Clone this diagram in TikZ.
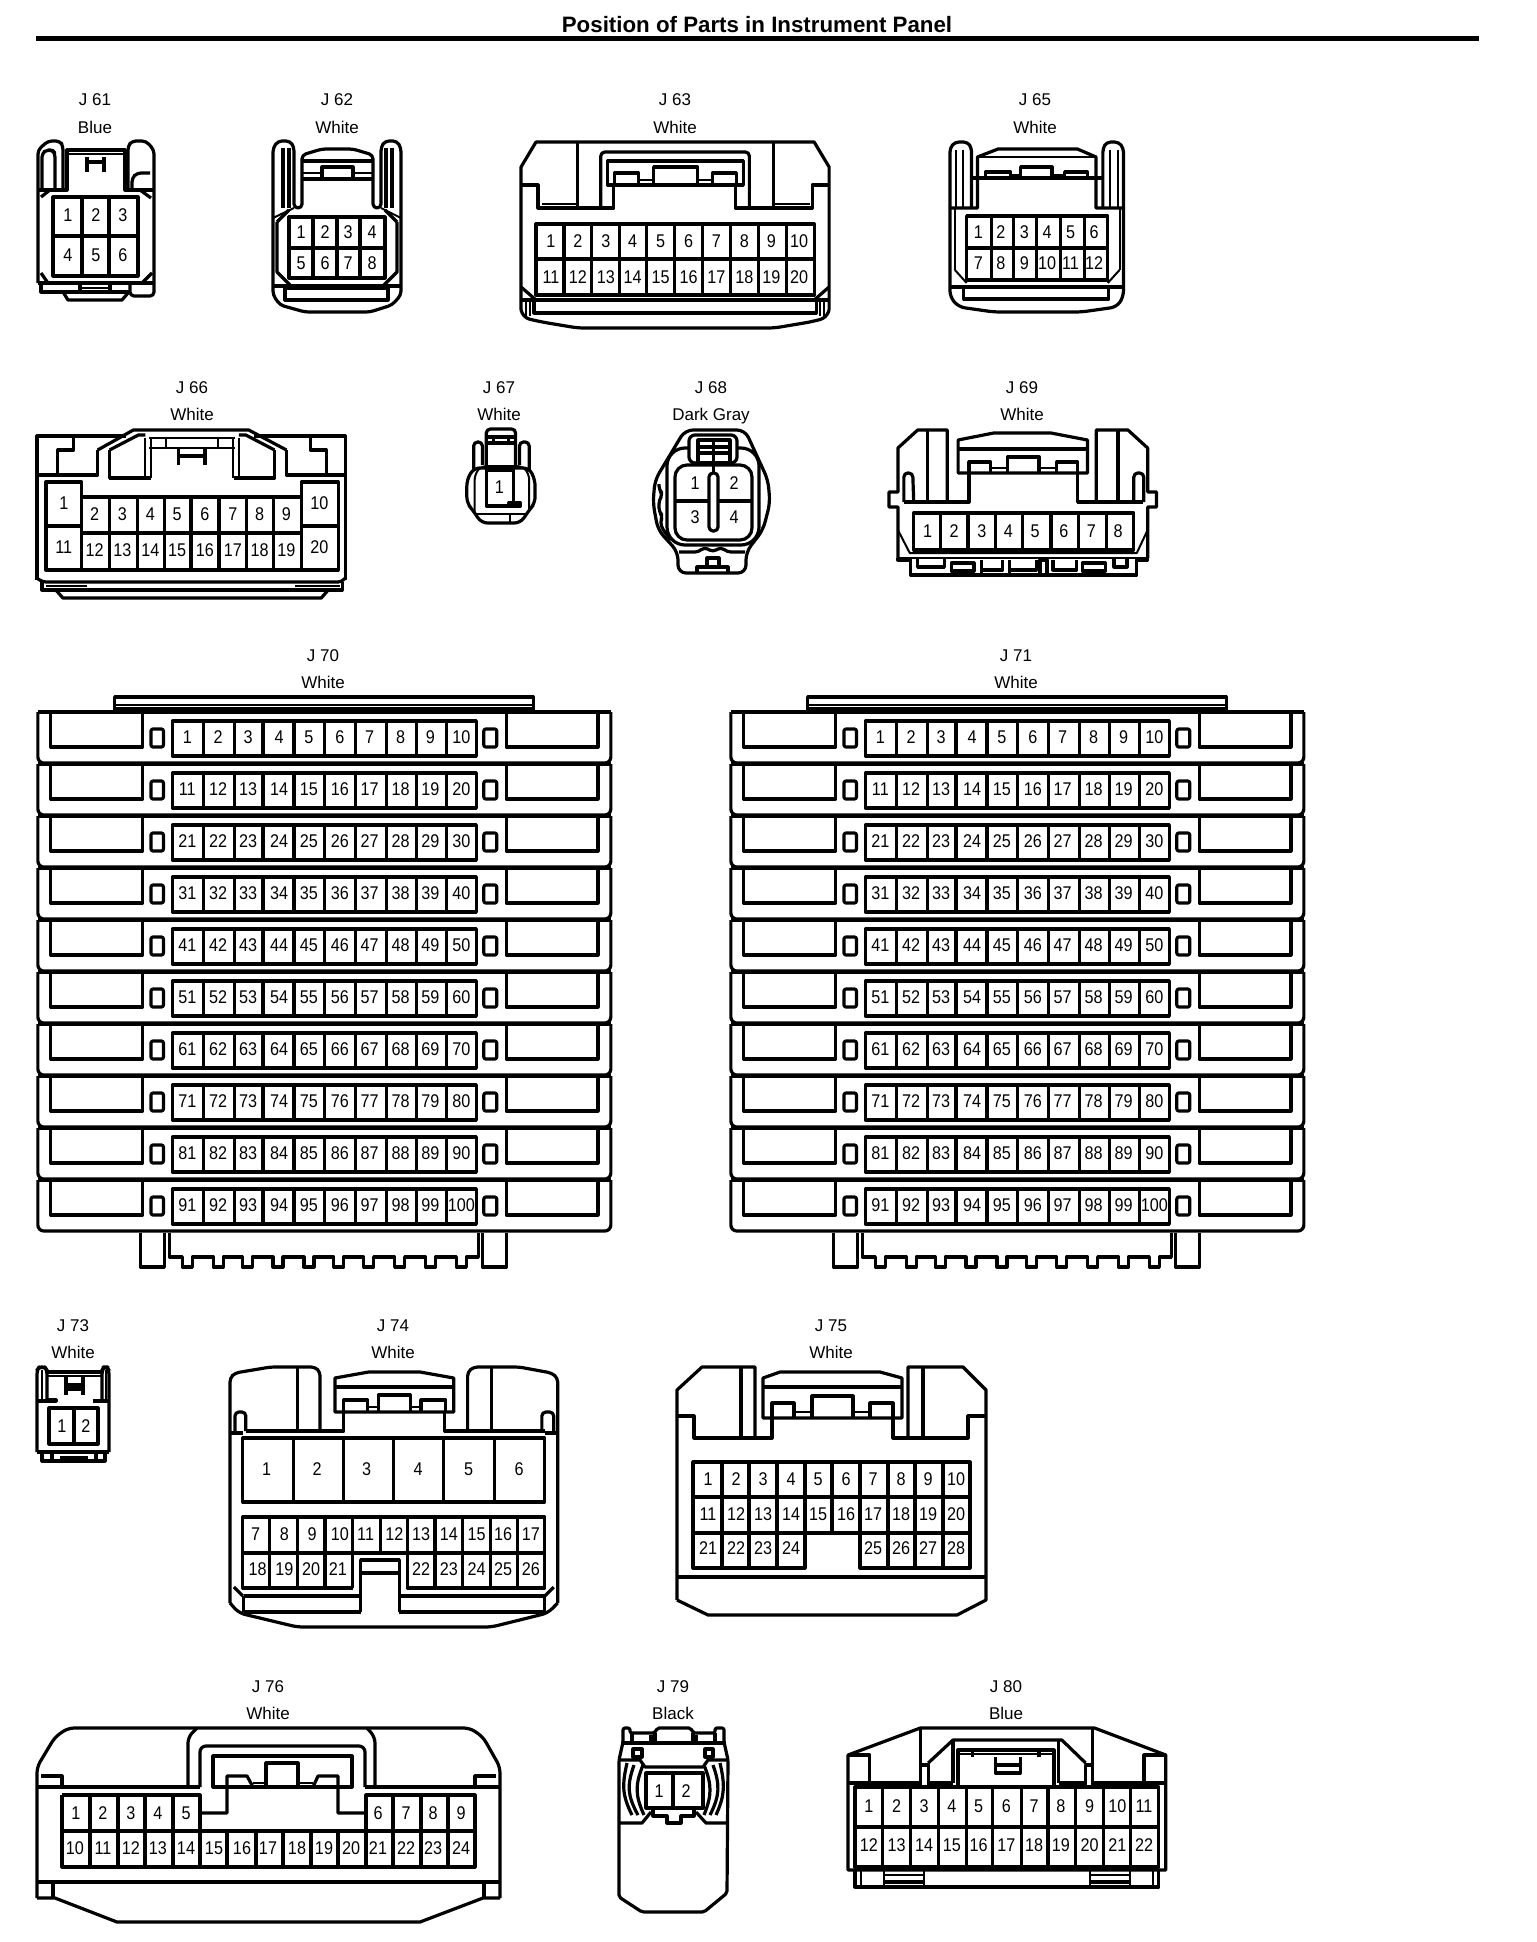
\documentclass[tikz,border=0pt]{standalone}
\usepackage{fontspec}
\setmainfont{Liberation Sans}
\newfontfamily\pinfont[FakeStretch=0.88]{Liberation Sans}
\tikzset{
  pinno/.style={inner sep=0pt,font=\pinfont\fontsize{9.2}{10}\selectfont},
  tagtext/.style={inner sep=0pt,text height=6pt,text depth=0pt,font=\fontsize{8.5}{10}\selectfont},
  hair/.style={line width=1pt},
  round/.style={rounded corners=2pt},
}
\newcommand\lbl[5]{\node[tagtext] (#1-id) at (#4,#5) {#2};\node[tagtext] (#1-col) at (#4,#5+27.5) {#3};}
\newcommand\pins[3]{\foreach \px/\pn in {#3} {\node[pinno] (#1-\pn) at (\px,#2) {\pn};}}
\newcommand\vls[3]{\foreach \q in {#3} {\draw (\q,#1)--(\q,#2);}}
\newcommand\hls[3]{\foreach \q in {#3} {\draw (#1,\q)--(#2,\q);}}
\newcommand\bigconn[2]{%
\begin{scope}[cm={0.9965,0,0,1,(#2,0)}]
\foreach \r in {0,...,9}{
  \pgfmathsetmacro\t{712+52*\r}
  \draw[rounded corners=3pt] (38,\t)--(38,\t+51)--(613,\t+51)--(613,\t);
  \draw[sharp corners] (38,\t)--(613,\t);
  \draw (51,\t)--(51,\t+35)--(143,\t+35)--(143,\t);
  \draw (600,\t)--(600,\t+35)--(508,\t+35)--(508,\t);
  \draw[rounded corners=1pt] (151.5,\t+17) rectangle (164,\t+35);
  \draw[rounded corners=1pt] (485.5,\t+17) rectangle (498.5,\t+35);
  \draw (173,\t+9) rectangle (478,\t+44);
  \vls{\t+9}{\t+44}{204,235,264,295,326,357,388,418,448}
  \foreach \c/\px in {1/188,2/219,3/249,4/280,5/310,6/341,7/371,8/402,9/432,10/463}{
    \pgfmathtruncatemacro\n{10*\r+\c}
    \node[pinno] (#1-\n) at (\px,\t+25) {\n};
  }
}
\draw[fill=white] (115,711)--(115,697)--(535,697)--(535,711)--cycle;
\draw[hair] (115,705)--(535,705);
\draw[hair] (115,708)--(535,708);
\draw (141,1233)--(141,1267)--(165,1267)--(165,1233);
\draw (484,1233)--(484,1267)--(508,1267)--(508,1233);
\draw (170,1233)--(170,1257)
  \foreach \q in {188,219,248,279,310,340,370,401,432,463}{--(\q-5,1257)--(\q-5,1267)--(\q+5,1267)--(\q+5,1257)}
  --(480,1257)--(480,1233);
\end{scope}}
\begin{document}
\begin{tikzpicture}[x=0.5pt,y=-0.5pt,line width=1.6pt,line join=round]
\path[fill=white,use as bounding box] (0,0) rectangle (1536,1942);
\node[inner sep=0pt,font=\bfseries\fontsize{11.15}{13}\selectfont] (title) at (757,25) {Position of Parts in Instrument Panel};
\coordinate (ruleL) at (36,38.5);
\coordinate (ruleR) at (1479,38.5);
\draw[line width=2.5pt] (ruleL)--(ruleR);

% ---------- J61
\lbl{J61}{J 61}{Blue}{95}{100}
\draw[round] (63,190)--(63,146)--(60,141)--(48,141)--(38,150)--(38,283);
\draw[round] (42,190)--(42,153)--(47,150)--(52,150)--(55,153)--(55,190);
\draw (38,190)--(67,190)--(67,150)--(125,150)--(125,190)--(154,190);
\draw[hair] (67,154)--(125,154);
\vls{157}{172}{87,104}
\draw (87,162)--(104,162);
\draw[round] (128,190)--(128,146)--(132,141)--(146,141)--(154,150)--(154,296)--(130,296)--(130,283);
\draw[round] (132,190)--(132,178)--(137,173)--(150,173);
\draw (41,197)--(50,190);\draw (140,190)--(151,198);
\draw (38,283)--(154,283);
\draw (41,273)--(48,283);\draw (142,283)--(152,273);
\draw (53,197) rectangle (138,276);
\vls{197}{276}{82,109}
\draw (53,236)--(138,236);
\pins{J61}{215}{68/1,96/2,123/3}
\pins{J61}{255}{68/4,96/5,123/6}
\draw (41,283)--(41,292)--(130,292);
\draw (63,292)--(68,300)--(122,300)--(128,293);
\vls{284}{292}{80,110}
\draw[hair] (80,288)--(110,288);

% ---------- J62
\lbl{J62}{J 62}{White}{337}{100}
\draw[round] (273,295)--(273,148)--(278,141)--(290,141)--(294,147)--(294,208)--(302,208)--(302,155)--(322,149)--(353,149)--(373,155)--(373,208)--(381,208)--(381,147)--(385,141)--(397,141)--(401,148)--(401,295)--(392,305)--(370,312)--(305,312)--(280,305)--cycle;
\vls{148}{208}{283,289,386,392}
\draw (302,161)--(373,161);
\draw (322,167) rectangle (353,179);
\draw[hair] (302,173)--(322,173);\draw[hair] (353,173)--(373,173);
\draw (302,179)--(373,179);
\draw[hair] (294,208)--(273,218);\draw[hair] (381,208)--(401,218);
\draw (277,222)--(289,210);\draw (397,222)--(385,210);
\draw (277,222)--(277,272)--(290,285);\draw (397,222)--(397,272)--(384,285);
\draw (289,217) rectangle (385,278);
\vls{217}{278}{313,337,360}
\draw (289,248)--(385,248);
\pins{J62}{232}{301/1,325/2,348/3,372/4}
\pins{J62}{263}{301/5,325/6,348/7,372/8}
\draw (273,286)--(401,286);
\draw (285,288) rectangle (388,300);

% ---------- J63
\lbl{J63}{J 63}{White}{675}{100}
\begin{scope}[cm={0.997,0,0,1,(1.6,0)}]
\draw (521,310)--(521,167)--(536,142)--(815,142)--(830,167)--(830,310);
\draw[rounded corners=3pt] (521,310)--(524,318)--(542,322)--(578,328)--(775,328)--(811,322)--(827,318)--(830,310);
\draw (521,185)--(538,185)--(538,208)--(614,208)--(614,185);
\draw (830,185)--(813,185)--(813,208)--(736,208)--(736,185);
\vls{142}{208}{578,774}
\draw[round] (601,208)--(601,152)--(750,152)--(750,208);
\draw (608,161) rectangle (744,185);
\draw (615,185)--(615,173)--(639,173)--(639,185);
\draw (654,185)--(654,167)--(698,167)--(698,185);
\draw (713,185)--(713,173)--(737,173)--(737,185);
\draw[hair] (639,180)--(654,180);\draw[hair] (698,180)--(713,180);
\draw[hair] (542,204)--(578,204);\draw[hair] (775,204)--(811,204);
\draw (536,224) rectangle (815,295);
\vls{224}{295}{564,592,620,647,675,703,731,759,787}
\draw (536,259)--(815,259);
\pins{J63}{241}{551/1,578/2,606/3,633/4,661/5,689/6,717/7,745/8,772/9,800/10}
\pins{J63}{277}{551/11,578/12,606/13,633/14,661/15,689/16,717/17,745/18,772/19,800/20}
\draw (521,300)--(830,300);
\draw (534,300)--(534,313)--(817,313)--(817,300);
\draw (521,287)--(536,300);\draw (830,287)--(815,300);
\foreach \q in {526,530,821,825} {\draw[hair] (\q,300)--(\q,316);}
\end{scope}

% ---------- J65
\lbl{J65}{J 65}{White}{1035}{100}
\begin{scope}[cm={0.98,0,0,1,(19,0)}]
\draw[round] (950,208)--(950,148)--(955,142)--(968,142)--(972,148)--(972,208);
\draw[round] (1106,208)--(1106,148)--(1110,142)--(1122,142)--(1127,148)--(1127,208);
\foreach \q in {956,963,1113,1121} {\draw[hair] (\q,150)--(\q,208);}
\draw (950,208)--(978,208)--(978,157)--(999,149)--(1080,149)--(1099,157)--(1099,208)--(1127,208);
\draw[hair] (978,157)--(1099,157);
\draw (972,178)--(1106,178);
\draw (986,178)--(986,172)--(1012,172)--(1012,178);
\draw (1022,178)--(1022,167)--(1054,167)--(1054,178);
\draw (1067,178)--(1067,172)--(1090,172)--(1090,178);
\draw[hair] (1012,175)--(1022,175);\draw[hair] (1054,175)--(1067,175);
\draw[rounded corners=3pt] (950,208)--(950,297)--(959,307)--(995,312)--(1084,312)--(1120,307)--(1127,297)--(1127,208);
\foreach \q in {955,1123} {\draw[hair] (\q,208)--(\q,270);}
\draw[hair] (955,270)--(967,283);\draw[hair] (1123,270)--(1111,283);
\draw (967,216) rectangle (1111,280);
\vls{216}{280}{992,1015,1038,1063,1087}
\draw (967,248)--(1111,248);
\pins{J65}{232}{979/1,1002/2,1026/3,1049/4,1073/5,1097/6}
\pins{J65}{263}{979/7,1002/8,1026/9,1049/10,1073/11,1097/12}
\draw (950,287)--(1127,287);
\draw (964,287) rectangle (1112,299);
\end{scope}

% ---------- J66
\lbl{J66}{J 66}{White}{192}{387}
\begin{scope}[cm={0.994,0,0,1,(0.22,0)}]
\draw (37,580)--(37,436)--(127,436);
\draw (98,450)--(134,430)--(250,430)--(288,450);
\draw (255,436)--(347,436)--(347,580);
\draw (37,475)--(98,475)--(98,450);
\draw (347,475)--(288,475)--(288,450);
\draw (74,438)--(74,450)--(58,450)--(58,475);
\draw (312,438)--(312,450)--(328,450)--(328,475);
\draw (110,450)--(110,478)--(152,478);
\draw (276,450)--(276,478)--(235,478);
\draw (110,450)--(139,435)--(146,435);
\draw (276,450)--(247,435)--(240,435);
\foreach \q in {146,152,234,240} {\draw[hair] (\q,438)--(\q,478);}
\draw[hair] (150,438)--(236,438);\draw[hair] (150,448)--(236,448);
\foreach \q in {167,219} {\draw[hair] (\q,438)--(\q,448);}
\vls{448}{465}{179,206}
\draw (179,456)--(206,456);
\draw (46,482) rectangle (82,570);
\draw (303,482) rectangle (340,570);
\draw (46,526)--(82,526);\draw (303,526)--(340,526);
\draw (82,497)--(303,497);\draw (82,570)--(303,570);\draw (82,533)--(303,533);
\vls{497}{570}{110,138,165,192,220,248,275}
\node[pinno] (J66-1) at (64,503) {1};
\node[pinno] (J66-11) at (64,547) {11};
\node[pinno] (J66-10) at (321,503) {10};
\node[pinno] (J66-20) at (321,547) {20};
\pins{J66}{514}{95/2,123/3,151/4,178/5,206/6,234/7,261/8,288/9}
\pins{J66}{550}{95/12,123/13,151/14,178/15,206/16,234/17,261/18,288/19}
\draw[round] (37,578)--(42,582)--(344,582)--(347,578);
\draw (42,582)--(42,590)--(344,590)--(344,582);
\draw (56,590)--(63,598)--(323,598)--(330,590);
\draw[hair] (46,585.5)--(87,585.5);\draw[hair] (297,585.5)--(342,585.5);
\end{scope}

% ---------- J67
\lbl{J67}{J 67}{White}{499}{387}
\begin{scope}[cm={0.975,0,0,1,(11.5,0)}]
\draw[round] (487,468)--(487,429)--(517,429)--(517,468);
\hls{487}{517}{437,443}
\vls{437}{443}{494,510}
\draw[round] (483,465)--(483,442)--(474,442)--(474,470);
\draw[round] (521,465)--(521,442)--(531,442)--(531,470);
\draw[rounded corners=3pt] (474,468)--(467,480)--(467,503)--(473,510)--(482,523)--(522,523)--(531,510)--(537,503)--(537,480)--(531,468)--cycle;
\draw[hair,rounded corners=3pt] (475,514)--(475,474)--(482,466)--(524,466)--(531,474)--(531,510);
\draw (487,470) rectangle (515,506);
\node[pinno] (J67-1) at (500.5,487) {1};
\draw[fill=black] (510,503) rectangle (522,506);
\draw[hair] (476,514)--(530,514);
\draw[hair] (511,514)--(511,522);
\end{scope}

% ---------- J68
\lbl{J68}{J 68}{Dark Gray}{711}{387}
\begin{scope}[xshift=-0.5pt]
\draw[rounded corners=4pt] (686,430)--(746,430)--(769,480)--(771,503)--(764,530)--(747,552)--(747,573)--(679,573)--(679,552)--(659,530)--(654,503)--(656,480)--cycle;
\draw[rounded corners=2pt] (660,484)--(660,490)--(664,494)--(660,500)--(660,512)--(664,516)--(661,522)--(664,530)--(672,540);
\draw[rounded corners=9pt] (668,448) rectangle (760,545);
\draw[rounded corners=6pt] (676,465) rectangle (753,540);
\draw (676,501)--(753,501);
\draw[rounded corners=2pt,fill=white] (710,473) rectangle (719,531);
\draw (714.5,465)--(714.5,473);
\draw[rounded corners=3pt,fill=white] (690,435) rectangle (738,463);
\draw[fill=white] (699,440) rectangle (731,463);
\hls{699}{731}{447,453}
\draw (714.5,440)--(714.5,463);
\pins{J68}{483}{696/1,735/2}
\pins{J68}{517}{696/3,735/4}
\draw (698,573)--(698,567)--(729,567)--(729,573);
\draw (708,558) rectangle (720,567);
\draw[rounded corners=2pt] (680,552)--(700,552)--(705,547)--(714,552)--(722,547)--(728,552)--(746,552);
\end{scope}

% ---------- J69
\lbl{J69}{J 69}{White}{1022}{387}
\begin{scope}[cm={0.987,0,0,1,(11.6,0)}]
\draw (948,502)--(948,430)--(918,430)--(898,448)--(898,492)--(889,492)--(889,507)--(898,507)--(898,558);
\draw (928,430)--(928,502);
\draw[round] (904,502)--(904,473)--(913,473)--(914,502);
\draw (904,502)--(970,502)--(970,473);
\draw (959,473)--(959,440)--(995,433)--(1053,433)--(1090,440)--(1090,473)--cycle;
\draw (959,449)--(1090,449);
\draw (970,473)--(970,462)--(992,462)--(992,473);
\draw (1009,473)--(1009,457)--(1041,457)--(1041,473);
\draw (1059,473)--(1059,462)--(1080,462)--(1080,473);
\draw[hair] (992,468)--(1009,468);\draw[hair] (1041,468)--(1059,468);
\draw (1080,473)--(1080,502)--(1146,502);
\draw[round] (1137,502)--(1137,473)--(1147,473)--(1147,502);
\draw (1099,502)--(1099,430)--(1131,430)--(1151,448)--(1151,492)--(1160,492)--(1160,507)--(1151,507)--(1151,558);
\draw (1121,430)--(1121,502);
\draw (914,513) rectangle (1137,550);
\vls{513}{550}{941,969,997,1024,1053,1081,1109}
\pins{J69}{531}{928/1,955/2,983/3,1010/4,1037/5,1066/6,1094/7,1121/8}
\draw[hair] (898,530)--(910,553)--(1140,553)--(1151,530);
\draw (898,558)--(898,560)--(911,560)--(911,575)--(1140,575)--(1140,560)--(1151,560)--(1151,558);
\draw[hair] (898,558)--(1151,558);
\draw (918,558)--(918,567)--(945,567)--(945,558);
\draw (952,563) rectangle (975,571);
\draw (983,575)--(983,560);\draw (1004,560)--(1004,570)--(983,570);
\draw (1011,575)--(1011,560);\draw (1038,560)--(1038,570)--(1011,570);
\draw (1042,560) rectangle (1049,575);
\draw (1079,560)--(1079,570)--(1055,570)--(1055,560);
\draw (1085,563) rectangle (1108,571);
\draw (1117,558)--(1117,567)--(1130,567)--(1130,558);
\end{scope}

% ---------- J70 / J71
\lbl{J70}{J 70}{White}{323}{655}
\lbl{J71}{J 71}{White}{1016}{655}
\bigconn{J70}{0}
\bigconn{J71}{693}

% ---------- J73
\lbl{J73}{J 73}{White}{73}{1325}
\draw[round] (37,1452)--(37,1370)--(39,1367)--(45,1367)--(47,1370)--(47,1401);
\draw[round] (109,1452)--(109,1370)--(107,1367)--(104,1367)--(102,1370)--(102,1401);
\draw[hair] (41.5,1370)--(41.5,1400);\draw[hair] (105.5,1370)--(105.5,1400);
\draw (47,1372)--(102,1372);\draw[hair] (47,1376)--(102,1376);
\vls{1377}{1395}{66,83}
\draw (66,1385)--(83,1385);\draw (66,1389)--(83,1389);
\draw (37,1401)--(56,1401)--(56,1400)--(47,1400);
\draw (109,1401)--(93,1401);
\draw (49,1408) rectangle (98,1444);
\draw (74,1408)--(74,1444);
\pins{J73}{1426}{62/1,86/2}
\draw[round] (37,1452)--(109,1452);
\draw (42,1452)--(42,1461)--(105,1461)--(105,1452);
\draw (60,1458)--(88,1458);
\vls{1452}{1460}{52,96}

% ---------- J74
\lbl{J74}{J 74}{White}{393}{1325}
\begin{scope}[cm={0.99,0,0,1,(2.3,0)}]
\draw[round] (230,1603)--(230,1378)--(235,1373)--(271,1367)--(316,1367)--(321,1372)--(321,1431);
\draw (298,1367)--(298,1431);
\draw[round] (235,1432)--(235,1412)--(246,1412)--(246,1431);
\draw (230,1433)--(243,1433);
\draw (246,1431)--(345,1431)--(345,1412);
\draw (336,1412)--(336,1378)--(370,1372)--(422,1372)--(456,1378)--(456,1412)--cycle;
\draw (336,1387)--(456,1387);
\draw (345,1412)--(345,1400)--(369,1400)--(369,1412);
\draw (380,1412)--(380,1395)--(412,1395)--(412,1412);
\draw (423,1412)--(423,1400)--(448,1400)--(448,1412);
\draw[hair] (369,1407)--(380,1407);\draw[hair] (412,1407)--(423,1407);
\draw (447,1412)--(447,1431)--(548,1431);
\draw[round] (470,1431)--(470,1372)--(476,1367)--(522,1367)--(555,1373)--(561,1378)--(561,1603);
\draw (494,1367)--(494,1431);
\draw[round] (557,1432)--(557,1412)--(545,1412)--(545,1431);
\draw (561,1433)--(548,1433);
\draw (243,1438) rectangle (548,1502);
\vls{1438}{1502}{294,345,395,446,497}
\pins{J74}{1469}{267/1,318/2,368/3,420/4,471/5,522/6}
\draw (354,1588)--(243,1588)--(243,1517)--(548,1517)--(548,1588)--(409,1588)--(409,1553);
\draw (243,1553)--(548,1553);
\vls{1517}{1588}{270,298,326,354,437,465,493,520}
\vls{1517}{1553}{382,409}
\pins{J74}{1534}{256/7,285/8,313/9,341/10,367/11,396/12,423/13,451/14,479/15,506/16,534/17}
\pins{J74}{1569}{258/18,285/19,312/20,339/21,423/22,451/23,479/24,506/25,534/26}
\draw[fill=white] (362,1612)--(362,1560)--(401,1560)--(401,1612);
\draw (362,1573)--(401,1573);
\draw (244,1596)--(362,1596);\draw (401,1596)--(548,1596);
\draw (244,1612)--(362,1612);\draw (401,1612)--(548,1612);
\draw (244,1596)--(244,1612);\draw (548,1596)--(548,1612);
\draw (234,1587)--(243,1596);\draw (557,1587)--(548,1596);
\draw[rounded corners=3pt] (230,1603)--(239,1613)--(298,1627)--(494,1627)--(551,1613)--(561,1603);
\end{scope}

% ---------- J75
\lbl{J75}{J 75}{White}{831}{1325}
\draw (677,1600)--(677,1390)--(702,1367)--(755,1367)--(755,1438);
\draw (741,1367)--(741,1438);
\draw (677,1416)--(694,1416)--(694,1438)--(772,1438)--(772,1418);
\draw (763,1418)--(763,1378)--(780,1372)--(880,1372)--(902,1378)--(902,1418)--cycle;
\draw (763,1387)--(902,1387);
\draw (772,1418)--(772,1403)--(794,1403)--(794,1418);
\draw (812,1418)--(812,1396)--(853,1396)--(853,1418);
\draw (870,1418)--(870,1403)--(893,1403)--(893,1418);
\draw[hair] (794,1412)--(812,1412);\draw[hair] (853,1412)--(870,1412);
\draw (893,1418)--(893,1438)--(968,1438)--(968,1416)--(986,1416);
\draw (908,1438)--(908,1367)--(963,1367)--(986,1390)--(986,1600)--(957,1615)--(708,1615)--(677,1600);
\draw (923,1367)--(923,1438);
\draw (677,1577)--(986,1577);
\draw (805,1568)--(693,1568)--(693,1462)--(970,1462)--(970,1568)--(860,1568)--(860,1533)--(805,1533)--cycle;
\hls{693}{970}{1497}
\hls{693}{805}{1533}\hls{860}{970}{1533}
\vls{1462}{1568}{722,749,777,888,915,943}
\vls{1462}{1533}{805,832,860}
\pins{J75}{1479}{708/1,736/2,763/3,791/4,818/5,846/6,873/7,901/8,928/9,956/10}
\pins{J75}{1514}{708/11,736/12,763/13,791/14,818/15,846/16,873/17,901/18,928/19,956/20}
\pins{J75}{1548}{708/21,736/22,763/23,791/24,873/25,901/26,928/27,956/28}

% ---------- J76
\lbl{J76}{J 76}{White}{268}{1686}
\draw[rounded corners=3pt] (37,1898)--(37,1767)--(55,1737)--(68,1728)--(470,1728)--(483,1737)--(500,1767)--(500,1898);
\draw (37,1898)--(55,1898)--(117,1922)--(420,1922)--(483,1898)--(500,1898);
\draw (37,1787)--(200,1787);\draw (365,1787)--(500,1787);
\draw (41,1776)--(62,1776)--(62,1787);
\draw (496,1776)--(475,1776)--(475,1787);
\draw[rounded corners=3pt] (188,1787)--(188,1737)--(197,1728);
\draw[rounded corners=3pt] (375,1787)--(375,1737)--(367,1728);
\draw[rounded corners=3pt] (200,1787)--(200,1746)--(365,1746)--(365,1787);
\draw (213,1756) rectangle (352,1787);
\draw (200,1813)--(227,1813)--(227,1776)--(247,1776)--(253,1787);
\draw (266,1787)--(266,1763)--(298,1763)--(298,1787);
\draw (313,1787)--(318,1776)--(338,1776)--(338,1813)--(366,1813);
\draw[hair] (253,1783)--(266,1783);\draw[hair] (298,1783)--(313,1783);
\draw (62,1795)--(200,1795)--(200,1831);
\draw (366,1831)--(366,1795)--(475,1795)--(475,1867)--(62,1867)--(62,1795);
\draw (62,1831)--(475,1831);
\vls{1795}{1867}{90,118,145,173,200,393,421,448,366}
\vls{1831}{1867}{227,256,283,311,338}
\pins{J76}{1813}{76/1,103/2,131/3,158/4,186/5,378/6,406/7,433/8,461/9}
\pins{J76}{1848}{75/10,103/11,131/12,158/13,186/14,214/15,242/16,268/17,297/18,324/19,351/20,378/21,406/22,433/23,461/24}
\draw (37,1882)--(500,1882);
\draw (53,1882)--(53,1898);\draw (484,1882)--(484,1898);

% ---------- J79
\lbl{J79}{J 79}{Black}{673}{1686}
\draw[rounded corners=1pt] (623,1742)--(623,1728)--(630,1728)--(630,1733)--(655,1733)--(657,1728)--(691,1728)--(693,1733)--(715,1733)--(715,1728)--(724,1728)--(724,1742)--(728,1760)--(727,1893)--(704,1912)--(642,1912)--(619,1897)--(619,1760)--cycle;
\draw (623,1743)--(724,1743);
\vls{1733}{1743}{632,655,693,715}
\draw (651,1735)--(651,1743);\draw (696,1735)--(696,1743);
\draw (633,1749) rectangle (642,1757);
\draw (705,1749) rectangle (713,1757);
\draw (619,1760)--(640,1760)--(645,1767)--(703,1767)--(708,1760)--(727,1760);
\draw (646,1773) rectangle (703,1808);
\draw (673,1773)--(673,1808);
\pins{J79}{1791}{659/1,686/2}
\draw (627,1763) .. controls (622,1785) and (622,1795) .. (632,1815);
\draw (634,1765) .. controls (627,1785) and (627,1795) .. (638,1815);
\draw (643,1765) .. controls (635,1785) and (635,1795) .. (644,1815);
\draw (720,1763) .. controls (725,1785) and (725,1795) .. (716,1815);
\draw (713,1765) .. controls (720,1785) and (720,1795) .. (710,1815);
\draw (704,1765) .. controls (712,1785) and (712,1795) .. (704,1815);
\draw (619,1823)--(642,1823)--(651,1812);
\draw (653,1808)--(653,1816)--(667,1816)--(667,1823)--(681,1823)--(681,1816)--(694,1816)--(694,1808);
\draw (696,1812)--(706,1823)--(727,1823);

% ---------- J80
\lbl{J80}{J 80}{Blue}{1006}{1686}
\begin{scope}[cm={0.99,0,0,1,(8.48,0)}]
\draw (848,1870)--(848,1755)--(921,1728)--(1097,1728)--(1169,1755)--(1169,1870)--cycle;
\draw (848,1755)--(870,1755)--(870,1783);
\draw (1169,1755)--(1147,1755)--(1147,1783);
\draw (848,1783)--(921,1783);\draw (1095,1783)--(1169,1783);
\draw (921,1728)--(921,1787);\draw (1095,1728)--(1095,1787);
\draw (921,1765)--(929,1765)--(929,1787);
\draw (1095,1765)--(1088,1765)--(1088,1787);
\draw (929,1763)--(954,1740)--(1064,1740)--(1088,1763);
\draw (954,1740)--(954,1783);\draw (1061,1740)--(1061,1783);
\draw (929,1783)--(954,1783);\draw (1061,1783)--(1088,1783);
\draw (959,1787)--(959,1750)--(1056,1750)--(1056,1787);
\draw[hair] (959,1754)--(1056,1754);
\vls{1750}{1757}{974,1041}
\draw (997,1757)--(997,1773)--(1022,1773)--(1022,1757);
\draw (997,1765)--(1022,1765);
\draw (855,1787) rectangle (1162,1867);
\draw (855,1827)--(1162,1827);
\vls{1787}{1867}{883,911,939,968,994,1023,1050,1078,1106,1133}
\pins{J80}{1806}{869/1,897/2,925/3,953/4,980/5,1008/6,1036/7,1063/8,1092/9,1120/10,1147/11}
\pins{J80}{1845}{869/12,897/13,925/14,953/15,980/16,1008/17,1036/18,1063/19,1092/20,1120/21,1147/22}
\draw (855,1870)--(855,1887)--(1162,1887)--(1162,1870);
\foreach \q in {861,884,925,1092,1133,1156} {\draw[hair] (\q,1870)--(\q,1887);}
\draw[hair] (884,1875)--(925,1875);\draw (884,1882)--(925,1882);
\draw[hair] (1092,1875)--(1133,1875);\draw (1092,1882)--(1133,1882);
\end{scope}
\end{tikzpicture}
\end{document}
